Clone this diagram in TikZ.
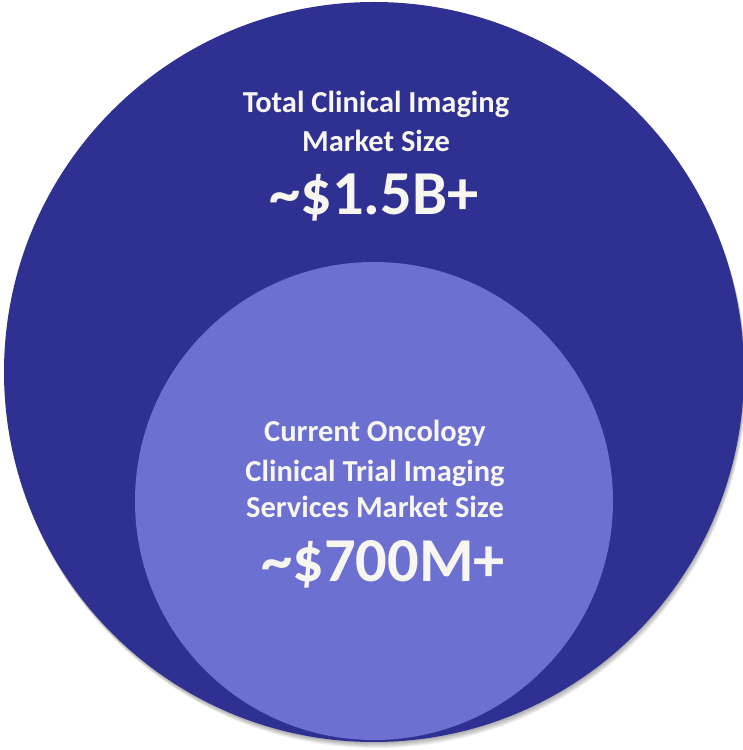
\documentclass[tikz,border=0pt]{standalone}
\usepackage{fontspec}
\setmainfont{Carlito}
\definecolor{outerblue}{HTML}{2E3092}
\definecolor{innerblue}{HTML}{6C70D0}
\definecolor{textwhite}{HTML}{F8F6F0}
\begin{document}
\begin{tikzpicture}[x=1pt,y=1pt,
  smalltxt/.style={anchor=base, text=textwhite, font=\bfseries\fontsize{30.5}{30.5}\selectfont, inner sep=0pt},
  bigtxt/.style={anchor=base, text=textwhite, font=\bfseries\fontsize{62.5}{62.5}\selectfont, inner sep=0pt},
  disc/.style={circle, inner sep=0pt, draw=none}]
\useasboundingbox (0,0) rectangle (743,750);
% soft shadow
\foreach \i in {1,...,6} {
  \fill[black, opacity=0.06] (374+0.4*\i, 378-\i) circle (370);
}
\node[disc, fill=outerblue, minimum size=740pt] (outer) at (374,378) {};
\node[disc, fill=innerblue, minimum size=478pt] (inner) at (374,249) {};
% outer texts
\node[smalltxt] (t1) at (376,637) {Total Clinical Imaging};
\node[smalltxt] (t2) at (376,598) {Market Size};
\node[bigtxt] (t3) at (374,535) {\textasciitilde\$1.5B+};
% inner texts
\node[smalltxt] (i1) at (375,308) {Current Oncology};
\node[smalltxt] (i2) at (375,268) {Clinical Trial Imaging};
\node[smalltxt] (i3) at (375,232) {Services Market Size};
\node[bigtxt] (i4) at (383,168) {\textasciitilde\$700M+};
\end{tikzpicture}
\end{document}
